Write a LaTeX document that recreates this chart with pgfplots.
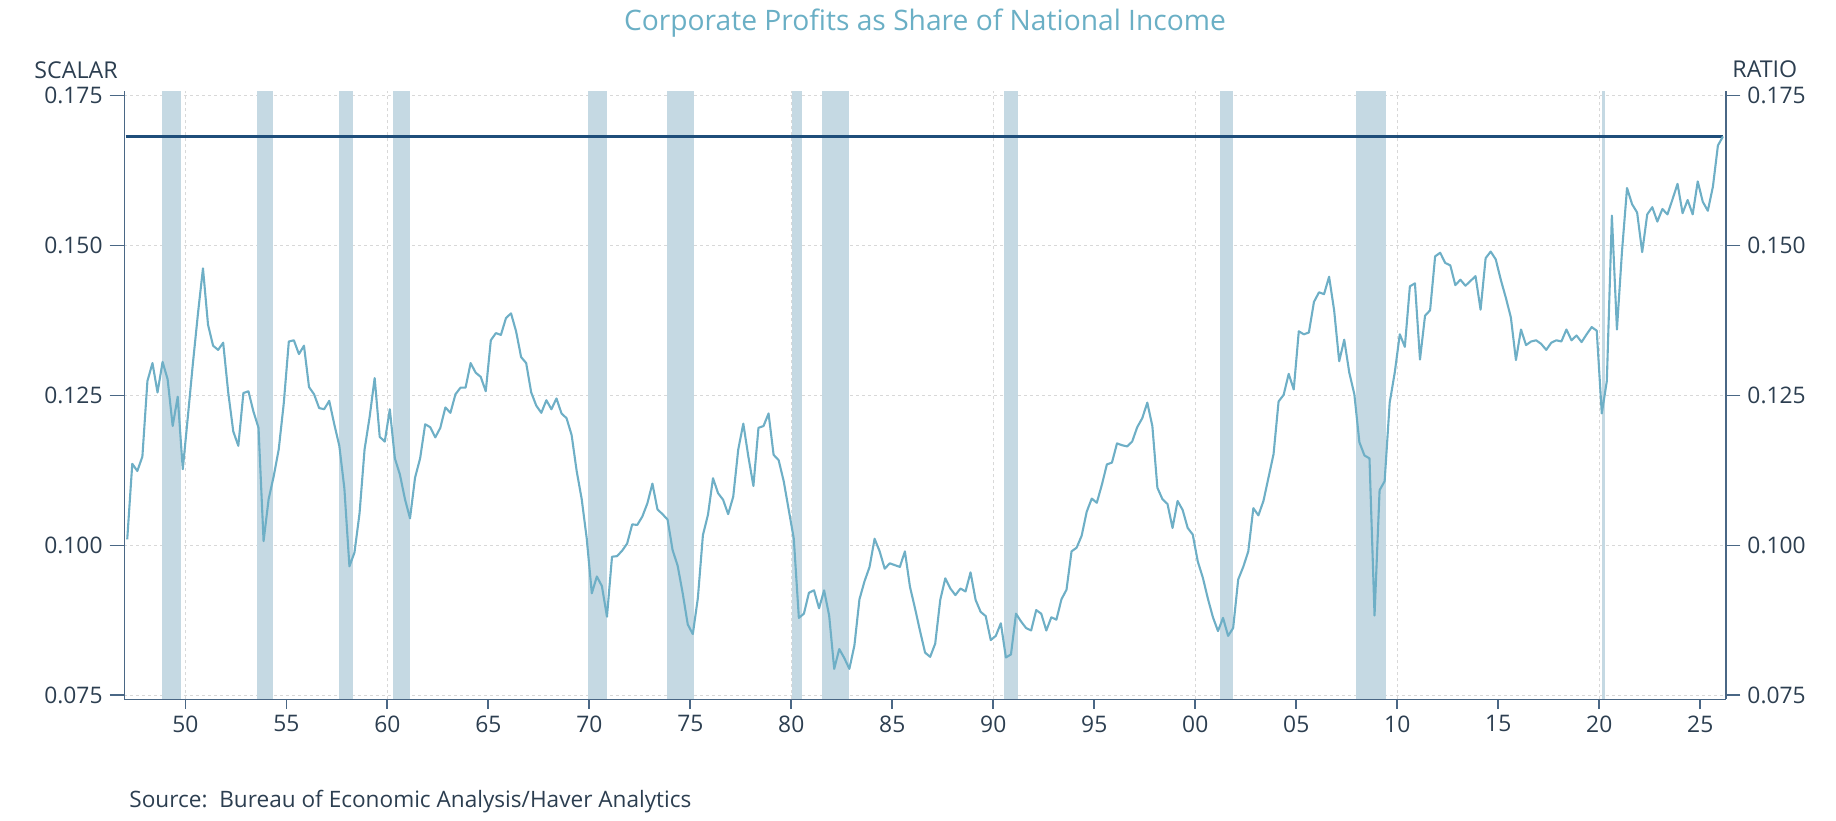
\documentclass[border=0pt]{standalone}
\usepackage{fontspec}
\setmainfont{Open Sans}
\usepackage{pgfplots}
\pgfplotsset{compat=1.18}
\definecolor{recess}{HTML}{C5D9E3}
\definecolor{dline}{HTML}{6EAFC6}
\definecolor{refline}{HTML}{1F4E7A}
\definecolor{axcol}{HTML}{4A6785}
\definecolor{txt}{HTML}{2C3E50}
\definecolor{ttl}{HTML}{6AAFC5}
\definecolor{gridc}{HTML}{D8D8D8}
\pgfplotsset{
  common/.style={
    at={(0,0)}, anchor=south west, scale only axis,
    width=800.7pt, height=304.15pt,
    xmin=1946.98, xmax=2026.26, ymin=0.07432, ymax=0.17578,
    axis line style={draw=axcol, line width=0.8pt},
    tick align=outside,
    /pgf/number format/assume math mode=true,
    ticklabel style={font=\fontsize{11.4}{13}\selectfont, text=txt},
  },
  recbar/.style={fill=recess, draw=none, forget plot},
}
\begin{document}
\begin{tikzpicture}
\path[use as bounding box] (-62.15pt,-60.35pt) rectangle (855.85pt,349.65pt);
\begin{axis}[common,
  axis x line*=bottom, axis y line*=left,
  major tick length=4.65pt,
  xtick={1950,1955,...,2025},
  xticklabels={50,55,60,65,70,75,80,85,90,95,00,05,10,15,20,25},
  xtick style={draw=axcol, line width=0.8pt},
  extra x ticks={1950,1960,1970,1980,1990,2000,2010,2020},
  extra x tick labels={,,,,,,,},
  extra x tick style={xmajorgrids=true, major tick length=0pt},
  ytick={0.075,0.1,0.125,0.15,0.175},
  yticklabels={,,,,},
  ytick style={draw=none},
  ymajorgrids=true,
  major grid style={draw=gridc, dash pattern=on 1.5pt off 1.5pt, line width=0.45pt},
]
\addplot[recbar] coordinates {(1948.85,0.1758) (1949.77,0.1758)} \closedcycle;
\addplot[recbar] coordinates {(1953.53,0.1758) (1954.33,0.1758)} \closedcycle;
\addplot[recbar] coordinates {(1957.61,0.1758) (1958.29,0.1758)} \closedcycle;
\addplot[recbar] coordinates {(1960.30,0.1758) (1961.12,0.1758)} \closedcycle;
\addplot[recbar] coordinates {(1969.93,0.1758) (1970.87,0.1758)} \closedcycle;
\addplot[recbar] coordinates {(1973.86,0.1758) (1975.18,0.1758)} \closedcycle;
\addplot[recbar] coordinates {(1980.02,0.1758) (1980.53,0.1758)} \closedcycle;
\addplot[recbar] coordinates {(1981.52,0.1758) (1982.85,0.1758)} \closedcycle;
\addplot[recbar] coordinates {(1990.53,0.1758) (1991.21,0.1758)} \closedcycle;
\addplot[recbar] coordinates {(2001.22,0.1758) (2001.85,0.1758)} \closedcycle;
\addplot[recbar] coordinates {(2007.95,0.1758) (2009.43,0.1758)} \closedcycle;
\addplot[recbar] coordinates {(2020.12,0.1758) (2020.30,0.1758)} \closedcycle;
\addplot[refline, line width=1.2pt] coordinates {(1947.05,0.1682) (2026.125,0.1682)};
\addplot[dline, line width=1.05pt, line join=round] coordinates {
(1947.125,0.1010) (1947.375,0.1136) (1947.625,0.1124) (1947.875,0.1148)
(1948.125,0.1274) (1948.375,0.1304) (1948.625,0.1255) (1948.875,0.1306)
(1949.125,0.1277) (1949.375,0.1199) (1949.625,0.1248) (1949.875,0.1127)
(1950.125,0.1214) (1950.375,0.1303) (1950.625,0.1386) (1950.875,0.1462)
(1951.125,0.1368) (1951.375,0.1333) (1951.625,0.1326) (1951.875,0.1338)
(1952.125,0.1255) (1952.375,0.1190) (1952.625,0.1166) (1952.875,0.1254)
(1953.125,0.1257) (1953.375,0.1223) (1953.625,0.1196) (1953.875,0.1007)
(1954.125,0.1077) (1954.375,0.1115) (1954.625,0.1160) (1954.875,0.1237)
(1955.125,0.1340) (1955.375,0.1342) (1955.625,0.1319) (1955.875,0.1333)
(1956.125,0.1264) (1956.375,0.1252) (1956.625,0.1229) (1956.875,0.1227)
(1957.125,0.1241) (1957.375,0.1202) (1957.625,0.1166) (1957.875,0.1095)
(1958.125,0.0965) (1958.375,0.0988) (1958.625,0.1053) (1958.875,0.1160)
(1959.125,0.1214) (1959.375,0.1279) (1959.625,0.1181) (1959.875,0.1173)
(1960.125,0.1227) (1960.375,0.1145) (1960.625,0.1118) (1960.875,0.1077)
(1961.125,0.1045) (1961.375,0.1113) (1961.625,0.1145) (1961.875,0.1202)
(1962.125,0.1197) (1962.375,0.1180) (1962.625,0.1196) (1962.875,0.1230)
(1963.125,0.1221) (1963.375,0.1252) (1963.625,0.1263) (1963.875,0.1263)
(1964.125,0.1304) (1964.375,0.1288) (1964.625,0.1281) (1964.875,0.1257)
(1965.125,0.1342) (1965.375,0.1354) (1965.625,0.1351) (1965.875,0.1379)
(1966.125,0.1387) (1966.375,0.1357) (1966.625,0.1314) (1966.875,0.1304)
(1967.125,0.1255) (1967.375,0.1233) (1967.625,0.1221) (1967.875,0.1242)
(1968.125,0.1227) (1968.375,0.1245) (1968.625,0.1220) (1968.875,0.1212)
(1969.125,0.1184) (1969.375,0.1124) (1969.625,0.1077) (1969.875,0.1011)
(1970.125,0.0920) (1970.375,0.0948) (1970.625,0.0932) (1970.875,0.0881)
(1971.125,0.0981) (1971.375,0.0982) (1971.625,0.0991) (1971.875,0.1003)
(1972.125,0.1035) (1972.375,0.1034) (1972.625,0.1048) (1972.875,0.1070)
(1973.125,0.1103) (1973.375,0.1060) (1973.625,0.1052) (1973.875,0.1043)
(1974.125,0.0992) (1974.375,0.0966) (1974.625,0.0920) (1974.875,0.0868)
(1975.125,0.0852) (1975.375,0.0912) (1975.625,0.1017) (1975.875,0.1051)
(1976.125,0.1112) (1976.375,0.1087) (1976.625,0.1076) (1976.875,0.1052)
(1977.125,0.1081) (1977.375,0.1160) (1977.625,0.1203) (1977.875,0.1148)
(1978.125,0.1099) (1978.375,0.1196) (1978.625,0.1199) (1978.875,0.1220)
(1979.125,0.1151) (1979.375,0.1142) (1979.625,0.1107) (1979.875,0.1059)
(1980.125,0.1011) (1980.375,0.0879) (1980.625,0.0886) (1980.875,0.0921)
(1981.125,0.0925) (1981.375,0.0895) (1981.625,0.0925) (1981.875,0.0883)
(1982.125,0.0794) (1982.375,0.0827) (1982.625,0.0812) (1982.875,0.0794)
(1983.125,0.0833) (1983.375,0.0910) (1983.625,0.0940) (1983.875,0.0964)
(1984.125,0.1011) (1984.375,0.0990) (1984.625,0.0961) (1984.875,0.0970)
(1985.125,0.0967) (1985.375,0.0964) (1985.625,0.0990) (1985.875,0.0931)
(1986.125,0.0895) (1986.375,0.0857) (1986.625,0.0821) (1986.875,0.0814)
(1987.125,0.0836) (1987.375,0.0909) (1987.625,0.0945) (1987.875,0.0928)
(1988.125,0.0917) (1988.375,0.0928) (1988.625,0.0923) (1988.875,0.0955)
(1989.125,0.0909) (1989.375,0.0889) (1989.625,0.0882) (1989.875,0.0842)
(1990.125,0.0849) (1990.375,0.0870) (1990.625,0.0813) (1990.875,0.0818)
(1991.125,0.0886) (1991.375,0.0873) (1991.625,0.0862) (1991.875,0.0858)
(1992.125,0.0892) (1992.375,0.0886) (1992.625,0.0858) (1992.875,0.0880)
(1993.125,0.0876) (1993.375,0.0910) (1993.625,0.0926) (1993.875,0.0990)
(1994.125,0.0996) (1994.375,0.1016) (1994.625,0.1056) (1994.875,0.1078)
(1995.125,0.1071) (1995.375,0.1101) (1995.625,0.1135) (1995.875,0.1138)
(1996.125,0.1170) (1996.375,0.1167) (1996.625,0.1165) (1996.875,0.1173)
(1997.125,0.1197) (1997.375,0.1212) (1997.625,0.1238) (1997.875,0.1199)
(1998.125,0.1096) (1998.375,0.1077) (1998.625,0.1069) (1998.875,0.1029)
(1999.125,0.1074) (1999.375,0.1059) (1999.625,0.1029) (1999.875,0.1018)
(2000.125,0.0973) (2000.375,0.0946) (2000.625,0.0911) (2000.875,0.0880)
(2001.125,0.0857) (2001.375,0.0879) (2001.625,0.0849) (2001.875,0.0862)
(2002.125,0.0943) (2002.375,0.0964) (2002.625,0.0990) (2002.875,0.1062)
(2003.125,0.1050) (2003.375,0.1074) (2003.625,0.1113) (2003.875,0.1152)
(2004.125,0.1240) (2004.375,0.1251) (2004.625,0.1286) (2004.875,0.1260)
(2005.125,0.1357) (2005.375,0.1352) (2005.625,0.1355) (2005.875,0.1406)
(2006.125,0.1422) (2006.375,0.1419) (2006.625,0.1448) (2006.875,0.1392)
(2007.125,0.1307) (2007.375,0.1343) (2007.625,0.1288) (2007.875,0.1252)
(2008.125,0.1172) (2008.375,0.1150) (2008.625,0.1145) (2008.875,0.0883)
(2009.125,0.1092) (2009.375,0.1107) (2009.625,0.1238) (2009.875,0.1288)
(2010.125,0.1352) (2010.375,0.1331) (2010.625,0.1432) (2010.875,0.1437)
(2011.125,0.1310) (2011.375,0.1383) (2011.625,0.1392) (2011.875,0.1482)
(2012.125,0.1488) (2012.375,0.1471) (2012.625,0.1467) (2012.875,0.1434)
(2013.125,0.1443) (2013.375,0.1433) (2013.625,0.1441) (2013.875,0.1449)
(2014.125,0.1393) (2014.375,0.1479) (2014.625,0.1490) (2014.875,0.1477)
(2015.125,0.1443) (2015.375,0.1413) (2015.625,0.1380) (2015.875,0.1309)
(2016.125,0.1360) (2016.375,0.1334) (2016.625,0.1340) (2016.875,0.1342)
(2017.125,0.1336) (2017.375,0.1326) (2017.625,0.1338) (2017.875,0.1342)
(2018.125,0.1340) (2018.375,0.1360) (2018.625,0.1342) (2018.875,0.1350)
(2019.125,0.1339) (2019.375,0.1352) (2019.625,0.1364) (2019.875,0.1358)
(2020.125,0.1220) (2020.375,0.1274) (2020.625,0.1550) (2020.875,0.1360)
(2021.125,0.1490) (2021.375,0.1596) (2021.625,0.1569) (2021.875,0.1555)
(2022.125,0.1489) (2022.375,0.1552) (2022.625,0.1564) (2022.875,0.1540)
(2023.125,0.1561) (2023.375,0.1552) (2023.625,0.1577) (2023.875,0.1603)
(2024.125,0.1554) (2024.375,0.1576) (2024.625,0.1552) (2024.875,0.1607)
(2025.125,0.1573) (2025.375,0.1558) (2025.625,0.1598) (2025.875,0.1667)
(2026.125,0.1682)
};
\end{axis}
% left y axis
\begin{axis}[common,
  axis x line=none, axis y line*=left,
  major tick length=7.35pt,
  ytick={0.075,0.1,0.125,0.15,0.175},
  yticklabels={0.075,0.100,0.125,0.150,0.175},
  ytick style={draw=axcol, line width=0.8pt},
]
\addplot[draw=none, forget plot] coordinates {(1950,0.1)};
\end{axis}
% right y axis
\begin{axis}[common,
  axis x line=none, axis y line*=right,
  major tick length=7.35pt,
  ytick={0.075,0.1,0.125,0.15,0.175},
  yticklabels={0.075,0.100,0.125,0.150,0.175},
  ytick style={draw=axcol, line width=0.8pt},
]
\addplot[draw=none, forget plot] coordinates {(1950,0.1)};
\end{axis}
\node[anchor=base, text=ttl, font=\fontsize{14.1}{16}\selectfont, inner sep=0pt] at (400.35pt,334.15pt) {Corporate Profits as Share of National Income};
\node[anchor=base east, text=txt, font=\fontsize{11.6}{13}\selectfont, inner sep=0pt] at (-3.15pt,310.15pt) {SCALAR};
\node[anchor=base west, text=txt, font=\fontsize{11.6}{13}\selectfont, inner sep=0pt] at (803.85pt,310.65pt) {RATIO};
\node[anchor=base west, text=txt, font=\fontsize{11.3}{13}\selectfont, inner sep=0pt] at (2.35pt,-53.85pt) {Source:\ \ Bureau of Economic Analysis/Haver Analytics};
\end{tikzpicture}
\end{document}
